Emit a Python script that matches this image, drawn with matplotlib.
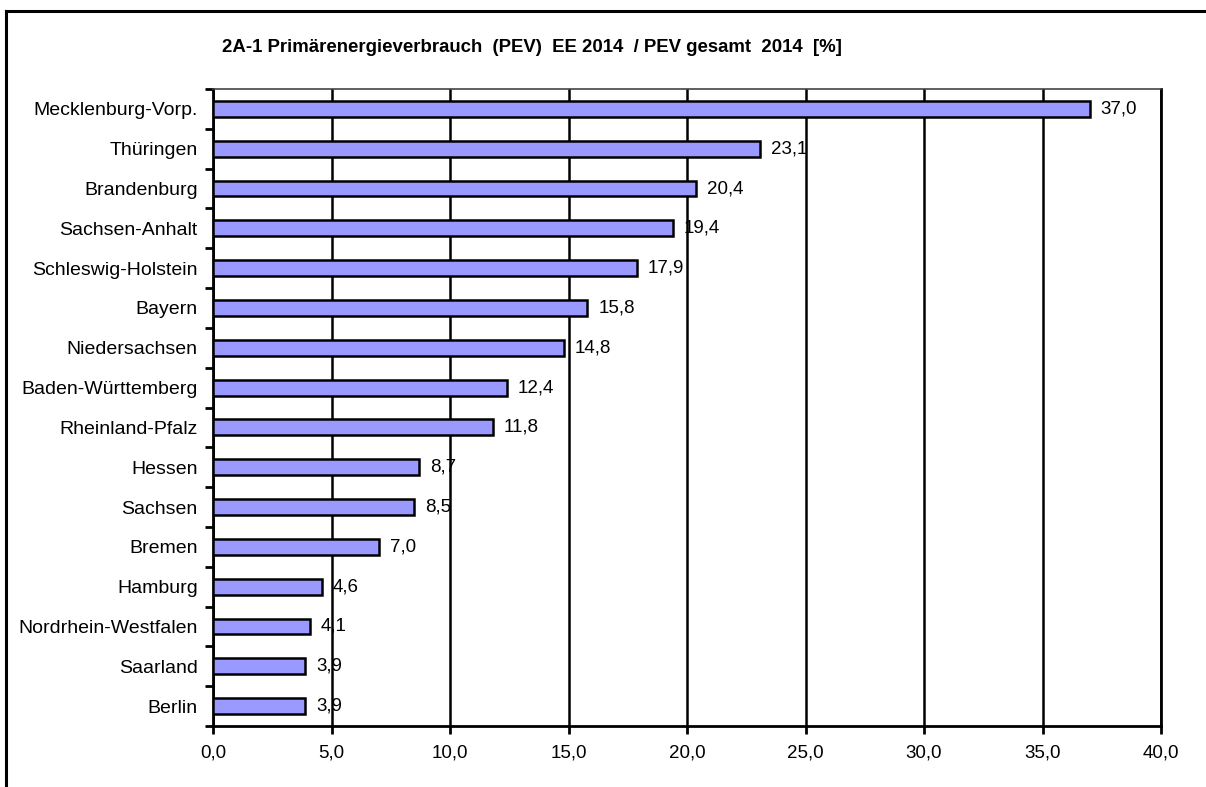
import matplotlib.pyplot as plt
from matplotlib.lines import Line2D
from matplotlib.ticker import FixedLocator

# data
laender = ["Mecklenburg-Vorp.", "Thüringen", "Brandenburg", "Sachsen-Anhalt",
           "Schleswig-Holstein", "Bayern", "Niedersachsen", "Baden-Württemberg",
           "Rheinland-Pfalz", "Hessen", "Sachsen", "Bremen", "Hamburg",
           "Nordrhein-Westfalen", "Saarland", "Berlin"]
anteil = [37.0, 23.1, 20.4, 19.4, 17.9, 15.8, 14.8, 12.4, 11.8, 8.7, 8.5, 7.0,
          4.6, 4.1, 3.9, 3.9]
x_ticks = [0, 5, 10, 15, 20, 25, 30, 35, 40]

title = "2A-1 Primärenergieverbrauch  (PEV)  EE 2014  / PEV gesamt  2014  [%]"

plt.rcParams['font.family'] = ['Liberation Sans', 'DejaVu Sans']
FS = 14


def fmt(v):
    return f"{v:.1f}".replace(".", ",")


fig = plt.figure(figsize=(12.06, 7.87), dpi=100)
ax = fig.add_axes([213 / 1206, 1 - 726 / 787, (1161 - 213) / 1206, (726 - 89) / 787])

pos = list(range(len(laender)))
ax.barh(pos, anteil, height=0.4, color="#9999FF", edgecolor="black",
        linewidth=1.8, zorder=3)

# value labels right of each bar
for p, v in zip(pos, anteil):
    ax.text(v + 0.45, p, fmt(v), va="center", ha="left", fontsize=FS - 0.5, zorder=4)

ax.set_xlim(0, 40)
ax.set_ylim(len(laender) - 0.5, -0.5)

ax.set_xticks(x_ticks)
ax.set_xticklabels([fmt(t) for t in x_ticks], fontsize=FS - 0.5)
ax.set_yticks(pos)
ax.set_yticklabels(laender, fontsize=FS)
ax.yaxis.set_minor_locator(FixedLocator([p - 0.5 for p in pos] + [len(laender) - 0.5]))

ax.tick_params(axis="y", which="major", length=0, pad=11)
ax.tick_params(axis="y", which="minor", length=6, width=2, direction="out")
ax.tick_params(axis="x", length=6, width=2, direction="out", pad=7)

ax.grid(axis="x", color="black", linewidth=1.8, zorder=1)
ax.set_axisbelow(True)

for side in ["left", "bottom", "right"]:
    ax.spines[side].set_linewidth(2)
ax.spines["top"].set_linewidth(1.2)
ax.spines["top"].set_color("#444444")

fig.text(222 / 1206, 1 - 48 / 787, title, fontsize=13.4, fontweight="bold",
         ha="left", va="center")

# outer frame, only top and left edges are visible in the reference
fig.add_artist(Line2D([6 / 1206, 1], [1 - 11 / 787, 1 - 11 / 787],
                      transform=fig.transFigure, color="black", linewidth=2.2))
fig.add_artist(Line2D([6 / 1206, 6 / 1206], [0, 1 - 11 / 787],
                      transform=fig.transFigure, color="black", linewidth=2.2))

fig.savefig("out.png", dpi=100)
